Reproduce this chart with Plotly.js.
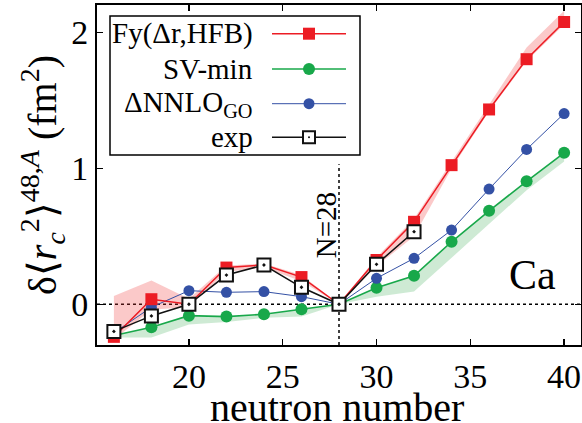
<!DOCTYPE html>
<html>
<head>
<meta charset="utf-8">
<script src="https://cdn.plot.ly/plotly-3.0.1.min.js"></script>
<style>
html,body{margin:0;padding:0;background:#fff;}
#chart{width:582px;height:423px;}
</style>
</head>
<body>
<div id="chart"></div>
<script>
// neutron numbers
const N = [16, 18, 20, 22, 24, 26, 28, 30, 32, 34, 36, 38, 40];
// Fy(Δr,HFB)
const fyVals = [-0.24, 0.037, 0.0, 0.27, 0.29, 0.20, 0, 0.326, 0.607, 1.024, 1.434, 1.804, 2.078];
const fyLower = [-0.26, -0.04, -0.02, 0.24, 0.27, 0.17, 0, 0.28, 0.50, 1.00, 1.42, 1.79, 2.06];
const fyUpper = [0.06, 0.175, 0.04, 0.285, 0.30, 0.215, 0, 0.345, 0.63, 1.05, 1.47, 1.89, 2.16];
// SV-min
const svVals = [-0.23, -0.169, -0.084, -0.091, -0.074, -0.037, 0, 0.122, 0.21, 0.46, 0.688, 0.905, 1.115];
const svLower = [-0.245, -0.245, -0.15, -0.13, -0.10, -0.09, 0, 0.056, 0.093, 0.34, 0.59, 0.84, 1.05];
// ΔNNLO_GO
const nnloVals = [-0.21, -0.022, 0.10, 0.088, 0.093, 0.056, 0, 0.191, 0.338, 0.546, 0.848, 1.14, 1.404];
// experiment
const expN = [16, 18, 20, 22, 24, 26, 28, 30, 32];
const expVals = [-0.20, -0.086, 0.0, 0.215, 0.289, 0.125, 0, 0.294, 0.534];

const xTicks = [20, 25, 30, 35, 40];
const yTicks = [0, 1, 2];
const legendNames = ['Fy(Δr,HFB)', 'SV-min', 'ΔNNLO<sub>GO</sub>', 'exp'];
const xTitle = 'neutron number';
const yTitle = 'δ⟨<i>r</i><sub><i>c</i></sub><sup>2</sup>⟩<sup>48,<i>A</i></sup> (fm<sup>2</sup>)';

const RED = '#ec1c24', GREEN = '#18a84a', BLUE = '#3451a5', BLACK = '#111111';
const FONT = 'Liberation Serif';

const traces = [
  {x: N, y: fyLower, mode: 'lines', line: {width: 0, color: 'rgba(0,0,0,0)'}, hoverinfo: 'skip', showlegend: false},
  {x: N, y: fyUpper, mode: 'lines', fill: 'tonexty', fillcolor: 'rgba(240,60,60,0.28)', line: {width: 0, color: 'rgba(0,0,0,0)'}, hoverinfo: 'skip', showlegend: false},
  {x: N, y: svLower, mode: 'lines', line: {width: 0, color: 'rgba(0,0,0,0)'}, hoverinfo: 'skip', showlegend: false},
  {x: N, y: svVals, mode: 'lines', fill: 'tonexty', fillcolor: 'rgba(30,160,60,0.22)', line: {width: 0, color: 'rgba(0,0,0,0)'}, hoverinfo: 'skip', showlegend: false},
  {x: N, y: svVals, mode: 'lines+markers', name: 'SV-min', line: {color: GREEN, width: 1.6}, marker: {symbol: 'circle', size: 12, color: GREEN}, showlegend: false},
  {x: N, y: nnloVals, mode: 'lines+markers', name: 'ΔNNLO', line: {color: BLUE, width: 1}, marker: {symbol: 'circle', size: 11, color: BLUE}, showlegend: false},
  {x: N, y: fyVals, mode: 'lines+markers', name: 'Fy', line: {color: RED, width: 1.5}, marker: {symbol: 'square', size: 12, color: RED}, showlegend: false},
  {x: expN, y: expVals, mode: 'lines+markers', name: 'exp', line: {color: BLACK, width: 1.5}, marker: {symbol: 'square-dot', size: 13, color: '#ffffff', line: {color: BLACK, width: 2}}, showlegend: false}
];

// custom legend (gnuplot style: text then sample)
const L = 97, T = 5, W = 484, H = 340;
const px = v => (v - L) / W;
const py = v => (T + H - v) / H;
const rowY = [33.7, 69, 103.7, 137.3];
const rowColor = [RED, GREEN, BLUE, BLACK];
const shapes = [
  {type: 'line', xref: 'paper', yref: 'y', x0: 0, x1: 1, y0: 0, y1: 0, line: {color: '#000', width: 1.5, dash: 'dot'}, layer: 'below'},
  {type: 'line', xref: 'x', yref: 'y', x0: 28, x1: 28, y0: -0.3, y1: 1.03, line: {color: '#000', width: 1.5, dash: 'dot'}, layer: 'below'},
  {type: 'rect', xref: 'paper', yref: 'paper', x0: px(110), x1: px(360), y0: py(155), y1: py(16), line: {color: '#000', width: 1.5}, fillcolor: '#fff', layer: 'above'}
];
const annotations = [];
rowY.forEach((ry, i) => {
  shapes.push({type: 'line', xref: 'paper', yref: 'paper', x0: px(272), x1: px(346), y0: py(ry), y1: py(ry), line: {color: rowColor[i], width: i === 2 ? 1 : 1.5}});
  annotations.push({xref: 'paper', yref: 'paper', x: px(255), y: py(ry), xanchor: 'right', yanchor: 'middle', showarrow: false, text: legendNames[i], font: {family: FONT, size: 29, color: '#000'}});
});
const mx = px(309);
shapes.push({type: 'rect', xref: 'paper', yref: 'paper', xsizemode: 'pixel', ysizemode: 'pixel', xanchor: mx, yanchor: py(rowY[0]), x0: -6, x1: 6, y0: -6, y1: 6, fillcolor: RED, line: {width: 0}});
shapes.push({type: 'circle', xref: 'paper', yref: 'paper', xsizemode: 'pixel', ysizemode: 'pixel', xanchor: mx, yanchor: py(rowY[1]), x0: -6, x1: 6, y0: -6, y1: 6, fillcolor: GREEN, line: {width: 0}});
shapes.push({type: 'circle', xref: 'paper', yref: 'paper', xsizemode: 'pixel', ysizemode: 'pixel', xanchor: mx, yanchor: py(rowY[2]), x0: -5.5, x1: 5.5, y0: -5.5, y1: 5.5, fillcolor: BLUE, line: {width: 0}});
shapes.push({type: 'rect', xref: 'paper', yref: 'paper', xsizemode: 'pixel', ysizemode: 'pixel', xanchor: mx, yanchor: py(rowY[3]), x0: -6, x1: 6, y0: -6, y1: 6, fillcolor: '#fff', line: {color: BLACK, width: 2}});
shapes.push({type: 'circle', xref: 'paper', yref: 'paper', xsizemode: 'pixel', ysizemode: 'pixel', xanchor: mx, yanchor: py(rowY[3]), x0: -1, x1: 1, y0: -1, y1: 1, fillcolor: BLACK, line: {width: 0}});

annotations.push({xref: 'x', yref: 'y', x: 38.3, y: 0.215, text: 'Ca', showarrow: false, font: {family: FONT, size: 42, color: '#000'}});
annotations.push({xref: 'x', yref: 'y', x: 27.35, y: 0.58, xanchor: 'center', yanchor: 'middle', text: 'N=28', textangle: -90, showarrow: false, font: {family: FONT, size: 29, color: '#000'}});
// x-axis title as annotation for exact placement
annotations.push({xref: 'paper', yref: 'paper', x: px(337), y: py(383), xanchor: 'center', yanchor: 'top', text: xTitle, showarrow: false, font: {family: FONT, size: 40, color: '#000'}});

const layout = {
  width: 582, height: 423,
  margin: {l: L, r: 1, t: T, b: 78},
  paper_bgcolor: '#fff', plot_bgcolor: '#fff',
  showlegend: false,
  font: {family: FONT, color: '#000'},
  xaxis: {
    range: [15.1, 40.9], tickvals: xTicks, ticktext: xTicks.map(String),
    ticks: 'inside', ticklen: 6, tickwidth: 1.5, tickcolor: '#000',
    showline: true, linecolor: '#000', linewidth: 2, mirror: 'ticks',
    showgrid: false, zeroline: false,
    tickfont: {family: FONT, size: 34}
  },
  yaxis: {
    range: [-0.30, 2.203], tickvals: yTicks, ticktext: yTicks.map(String),
    ticks: 'inside', ticklen: 6, tickwidth: 1.5, tickcolor: '#000',
    showline: true, linecolor: '#000', linewidth: 2, mirror: 'ticks',
    showgrid: false, zeroline: false,
    tickfont: {family: FONT, size: 34},
    title: {text: yTitle, font: {family: FONT, size: 40}, standoff: 2}
  },
  shapes: shapes,
  annotations: annotations
};

Plotly.newPlot('chart', traces, layout, {staticPlot: true, displayModeBar: false});
</script>
</body>
</html>
